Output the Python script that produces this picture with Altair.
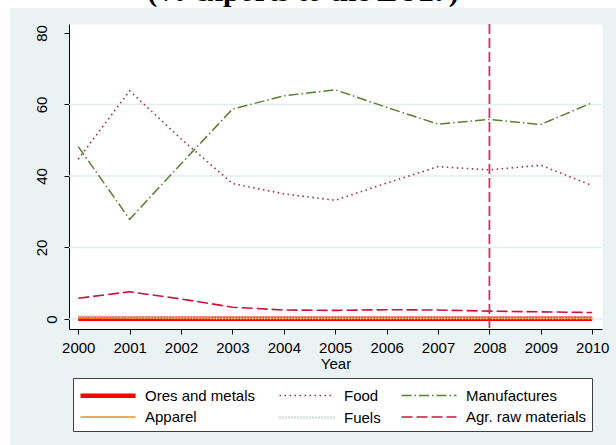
import altair as alt
import pandas as pd

years = [2000, 2001, 2002, 2003, 2004, 2005, 2006, 2007, 2008, 2009, 2010]
series_order = ["Ores and metals", "Food", "Manufactures", "Apparel", "Fuels", "Agr. raw materials"]
ores = [0.1, 0.1, 0.1, 0.1, 0.1, 0.1, 0.1, 0.1, 0.1, 0.1, 0.1]
food = [44.7, 63.8, 50.4, 37.9, 35.0, 33.2, 38.0, 42.6, 41.7, 43.0, 37.3]
manufactures = [48.2, 27.9, 43.4, 58.7, 62.4, 64.1, 59.2, 54.5, 55.8, 54.4, 60.5]
apparel = [0.3, 0.3, 0.3, 0.2, 0.2, 0.2, 0.2, 0.2, 0.2, 0.2, 0.2]
fuels = [0.8, 0.5, 0.3, 0.2, 0.2, 0.2, 0.2, 0.2, 0.2, 0.2, 0.2]
agr = [5.8, 7.6, 5.6, 3.3, 2.5, 2.4, 2.6, 2.5, 2.2, 2.0, 1.8]
crisis_year = [2008]
grid_values = [0, 20, 40, 60]
y_ticks = [0, 20, 40, 60, 80]
title_text = ["(% exports to the EU27)"]

colors = ["#FF0000", "#A0304A", "#5B7F30", "#F7901E", "#BCC8C8", "#C8143C"]
dashes = [[1, 0], [1.5, 3.5], [10, 3, 1.5, 3], [1, 0], [1, 2], [11, 4]]
widths = [4.5, 1.6, 1.5, 1.5, 3, 1.6]

values = {"Ores and metals": ores, "Food": food, "Manufactures": manufactures,
          "Apparel": apparel, "Fuels": fuels, "Agr. raw materials": agr}
rows = []
for i, s in enumerate(series_order):
    for y, v in zip(years, values[s]):
        rows.append({"year": y, "value": v, "series": s, "order": i})
df = pd.DataFrame(rows)

W, H = 533, 305
xscale = alt.Scale(domain=[1999.82, 2010.19], nice=False, zero=False)
yscale = alt.Scale(domain=[-2.8, 82.5], nice=False, zero=False)

legend = alt.Legend(
    title=None, orient="none", legendX=4, legendY=354, columns=3, direction="horizontal",
    symbolType="M-1,0H4.5", symbolSize=400, labelFont="Liberation Sans", labelFontSize=15,
    labelColor="black", padding=5, fillColor="white", strokeColor="#404040",
    rowPadding=1, columnPadding=17, labelOffset=42, labelLimit=300,
)

lines = alt.Chart(df).mark_line(strokeCap="butt").encode(
    x=alt.X("year:Q", scale=xscale,
            axis=alt.Axis(values=years, format="d", title="Year", labelFontSize=15,
                          labelFont="Liberation Sans", titleFont="Liberation Sans",
                          titleFontSize=15, titleFontWeight="normal", titleColor="black",
                          labelColor="black", tickSize=5, labelPadding=6, titlePadding=1,
                          domainColor="black", tickColor="black", grid=False, labelFlush=False)),
    y=alt.Y("value:Q", scale=yscale,
            axis=alt.Axis(values=y_ticks, title=None, labelAngle=270, labelAlign="center",
                          labelBaseline="middle", labelFontSize=15, labelFont="Liberation Sans",
                          labelColor="black", tickSize=5,
                          labelPadding={"condition": {"test": "datum.value === 0", "value": 13}, "value": 23},
                          domainColor="black", tickColor="black", grid=False)),
    color=alt.Color("series:N", scale=alt.Scale(domain=series_order, range=colors), legend=legend),
    strokeDash=alt.StrokeDash("series:N", scale=alt.Scale(domain=series_order, range=dashes), legend=legend),
    strokeWidth=alt.StrokeWidth("series:N", scale=alt.Scale(type="ordinal", domain=series_order, range=widths), legend=legend),
    order="order:Q",
    detail="series:N",
)

grid = alt.Chart(pd.DataFrame({"g": grid_values})).mark_rule(color="#E3EDEF", strokeWidth=1.5).encode(
    y=alt.Y("g:Q", scale=yscale)
)

vline = alt.Chart(pd.DataFrame({"yr": crisis_year})).mark_rule(
    color="#D3305E", strokeWidth=1.8, strokeDash=[10, 4]
).encode(x=alt.X("yr:Q", scale=xscale))

white_top = alt.Chart(pd.DataFrame({"a": [0]})).mark_rect(color="white").encode(
    x=alt.value(-69), x2=alt.value(W + 14), y=alt.value(-24), y2=alt.value(-16)
)
white_left = alt.Chart(pd.DataFrame({"a": [0]})).mark_rect(color="white").encode(
    x=alt.value(-69), x2=alt.value(-59), y=alt.value(-24), y2=alt.value(H + 116)
)

title = alt.Chart(pd.DataFrame({"t": title_text})).mark_text(
    font="Liberation Serif", fontWeight="bold", fontSize=30, baseline="alphabetic",
    align="center", color="black"
).encode(text="t:N", x=alt.value(234), y=alt.value(-23))

chart = alt.layer(white_top, white_left, grid, lines, vline, title).properties(
    width=W, height=H,
    autosize=alt.AutoSizeParams(type="none"),
    padding={"left": 69, "top": 24, "right": 14, "bottom": 116},
    background="#EAF2F3",
).configure_view(fill="white", stroke="transparent")

chart.save("out.html", embed_options={"renderer": "svg", "actions": False})
